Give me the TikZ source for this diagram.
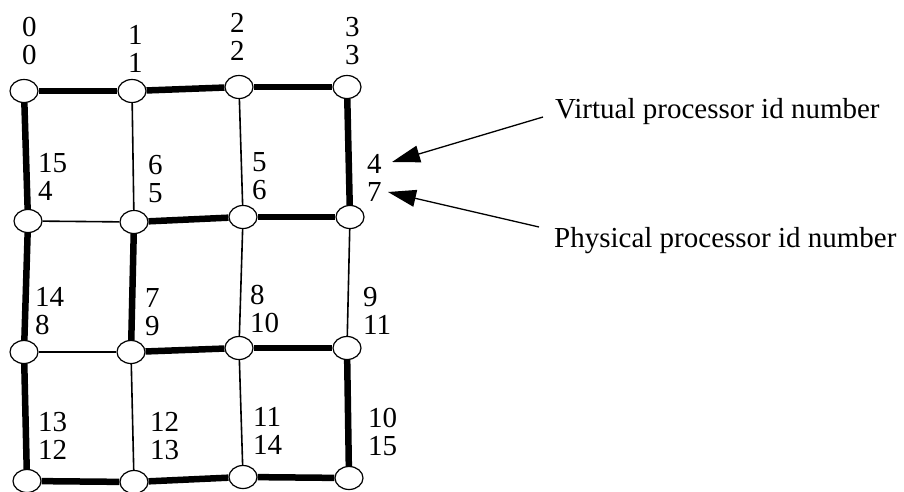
\documentclass[tikz,border=0pt]{standalone}
\usepackage{fontspec}
\setmainfont{Liberation Serif}
\usetikzlibrary{shapes.geometric,arrows.meta}

\tikzset{
  proc/.style={ellipse, draw, line width=1.2pt, inner sep=0pt,
               minimum width=28pt, minimum height=23pt},
  ring/.style={line width=6.5pt},
  mesh/.style={line width=1.6pt},
  ids/.style={anchor=north west, inner sep=0pt, align=left,
              font=\fontsize{29}{28}\selectfont},
  caption/.style={anchor=base west, inner sep=0pt,
                  font=\fontsize{29}{28}\selectfont},
  pointer/.style={line width=1.3pt, -{Triangle[length=28pt,width=17pt]}}
}

\begin{document}
\begin{tikzpicture}[x=1pt,y=-1pt]
  \useasboundingbox (0,0) rectangle (904,492);

  % processors of the 4x4 mesh
  \node[proc] (n00) at (24,91)  {};
  \node[proc] (n01) at (132,91) {};
  \node[proc] (n02) at (239,87) {};
  \node[proc] (n03) at (347,87) {};
  \node[proc] (n10) at (28,221)  {};
  \node[proc] (n11) at (134,222) {};
  \node[proc] (n12) at (243,217) {};
  \node[proc] (n13) at (350,217) {};
  \node[proc] (n20) at (24,352)  {};
  \node[proc] (n21) at (131,352) {};
  \node[proc] (n22) at (239,348) {};
  \node[proc] (n23) at (347,348) {};
  \node[proc] (n30) at (27,481)  {};
  \node[proc] (n31) at (134,482) {};
  \node[proc] (n32) at (243,477) {};
  \node[proc] (n33) at (349,478) {};

  % mesh links not on the embedded ring
  \draw[mesh] (n10) -- (n11);
  \draw[mesh] (n20) -- (n21);
  \draw[mesh] (n01) -- (n11);
  \draw[mesh] (n21) -- (n31);
  \draw[mesh] (n02) -- (n12);
  \draw[mesh] (n12) -- (n22);
  \draw[mesh] (n22) -- (n32);
  \draw[mesh] (n13) -- (n23);

  % links of the embedded ring
  \draw[ring] (n00) -- (n01);
  \draw[ring] (n01) -- (n02);
  \draw[ring] (n02) -- (n03);
  \draw[ring] (n03) -- (n13);
  \draw[ring] (n13) -- (n12);
  \draw[ring] (n12) -- (n11);
  \draw[ring] (n11) -- (n21);
  \draw[ring] (n21) -- (n22);
  \draw[ring] (n22) -- (n23);
  \draw[ring] (n23) -- (n33);
  \draw[ring] (n33) -- (n32);
  \draw[ring] (n32) -- (n31);
  \draw[ring] (n31) -- (n30);
  \draw[ring] (n30) -- (n20);
  \draw[ring] (n20) -- (n10);
  \draw[ring] (n10) -- (n00);

  % virtual / physical id pairs
  \node[ids] (l00) at (22,17)   {0\\0};
  \node[ids] (l01) at (128,25)  {1\\1};
  \node[ids] (l02) at (230,13)  {2\\2};
  \node[ids] (l03) at (345,17)  {3\\3};
  \node[ids] (l10) at (38,153)  {15\\4};
  \node[ids] (l11) at (148,155) {6\\5};
  \node[ids] (l12) at (252,152) {5\\6};
  \node[ids] (l13) at (367,154) {4\\7};
  \node[ids] (l20) at (35,287)  {14\\8};
  \node[ids] (l21) at (145,288) {7\\9};
  \node[ids] (l22) at (250,285) {8\\10};
  \node[ids] (l23) at (363,287) {9\\11};
  \node[ids] (l30) at (38,412)  {13\\12};
  \node[ids] (l31) at (150,412) {12\\13};
  \node[ids] (l32) at (253,407) {11\\14};
  \node[ids] (l33) at (368,408) {10\\15};

  % legend
  \node[caption] (virt) at (555,118) {Virtual processor id number};
  \node[caption] (phys) at (554,247) {Physical processor id number};
  \coordinate (vtail) at (543,117);
  \coordinate (ptail) at (539,227);
  \coordinate (vtip) at (392,162);
  \coordinate (ptip) at (388,192);
  \draw[pointer] (vtail) -- (vtip);
  \draw[pointer] (ptail) -- (ptip);
\end{tikzpicture}
\end{document}
